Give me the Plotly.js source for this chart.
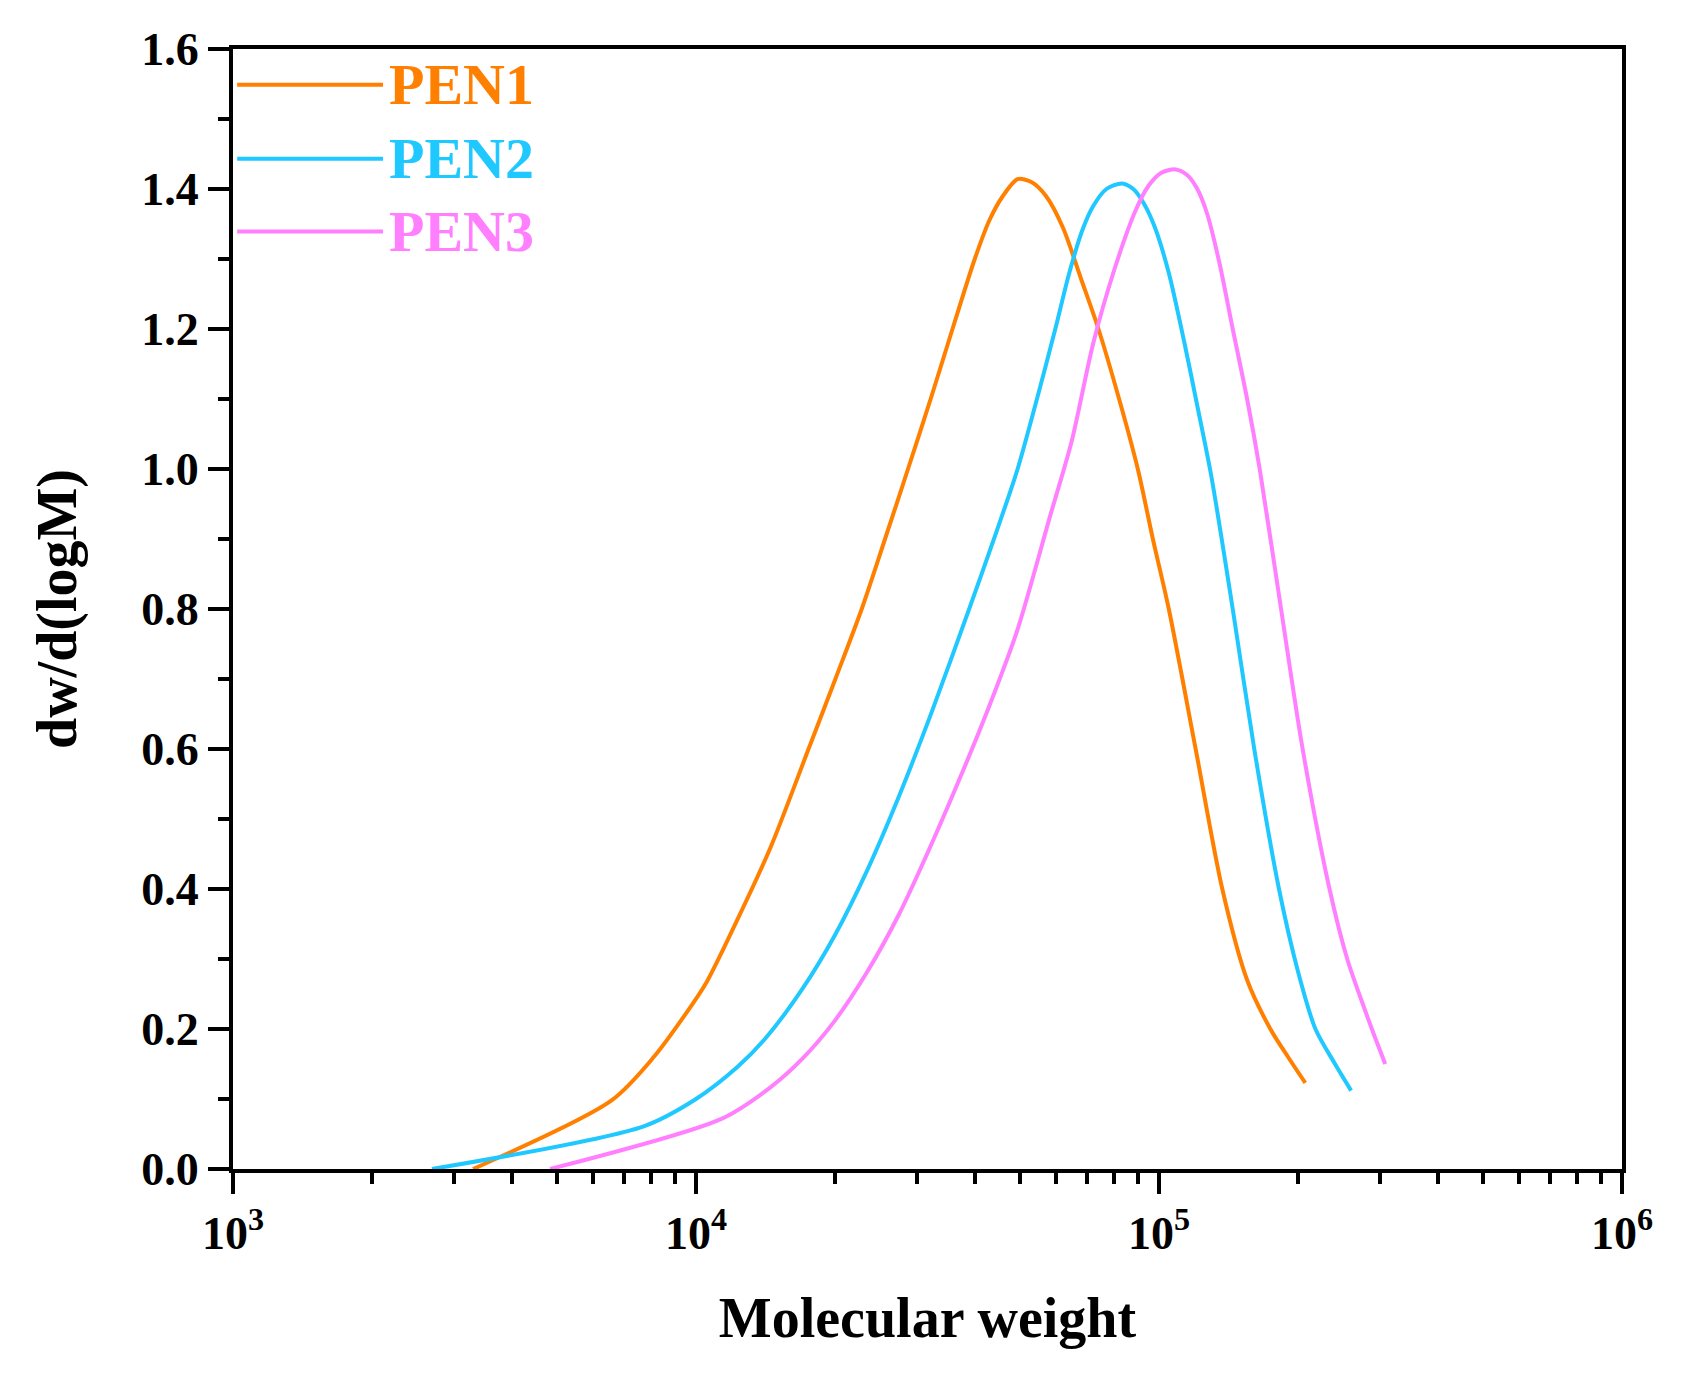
<!DOCTYPE html>
<html>
<head>
<meta charset="utf-8">
<script src="https://cdn.plot.ly/plotly-3.0.1.min.js"></script>
<style>
  html, body { margin: 0; padding: 0; background: #fff; }
  #gpc { width: 1683px; height: 1380px; }
</style>
</head>
<body>
<div id="gpc"></div>
<script>
/* molecular weight distribution */
var pen1_M = [3300, 6570, 8130, 9440, 10500, 12300, 14500, 17500, 20000, 22800, 25600, 28700, 32300, 36000, 40000, 43000, 46000,
  49500, 53000, 57000, 62000, 68000, 74000, 82000, 90000, 97000, 105000, 120000, 137000, 155000, 174000, 190000, 207000];
var pen1_w = [0.0, 0.098, 0.161, 0.219, 0.265, 0.357, 0.46, 0.60, 0.70, 0.80, 0.90, 1.00, 1.105, 1.205, 1.30, 1.355, 1.39,
  1.414, 1.41, 1.39, 1.345, 1.27, 1.20, 1.10, 1.00, 0.90, 0.80, 0.60, 0.40, 0.27, 0.20, 0.16, 0.123];

var pen2_M = [2690, 7710, 10000, 12300, 14100, 17000, 19950, 23400, 27500, 32300, 38900, 44000, 49500, 54500, 59700, 64000, 68200,
  72000, 77000, 83200, 88000, 93000, 98000, 105000, 113500, 121000, 129700, 144300, 160600, 181600, 200000, 217700, 240000, 260000];
var pen2_w = [0.0, 0.061, 0.10, 0.146, 0.186, 0.258, 0.334, 0.426, 0.534, 0.653, 0.80, 0.90, 1.00, 1.10, 1.20, 1.28, 1.34,
  1.375, 1.40, 1.408, 1.40, 1.378, 1.345, 1.28, 1.18, 1.09, 0.99, 0.80, 0.60, 0.40, 0.28, 0.20, 0.15, 0.112];

var pen3_M = [4840, 11380, 14500, 17000, 19950, 23400, 27500, 32300, 37900, 43500, 49500, 58200, 64800, 72000, 80100, 89100, 95000,
  101000, 108600, 115000, 121000, 127000, 135000, 144300, 155000, 165000, 183500, 204300, 233500, 255000, 274000, 292000, 308000];
var pen3_w = [0.0, 0.072, 0.117, 0.158, 0.212, 0.281, 0.365, 0.465, 0.572, 0.67, 0.771, 0.933, 1.04, 1.178, 1.285, 1.37, 1.405,
  1.423, 1.428, 1.42, 1.40, 1.365, 1.295, 1.20, 1.10, 1.00, 0.80, 0.60, 0.40, 0.30, 0.24, 0.19, 0.15];

var names = ['PEN1', 'PEN2', 'PEN3'];
var colors = ['#FF8000', '#1FC8FF', '#FF7FFF'];

var xTickVals = [1e3, 1e4, 1e5, 1e6];
var xTickText = ['10<sup>3</sup>', '10<sup>4</sup>', '10<sup>5</sup>', '10<sup>6</sup>'];

var xMinor = [];
for (var d = 3; d < 6; d++) {
  for (var k = 2; k <= 9; k++) xMinor.push(k * Math.pow(10, d));
}

var serif = 'Liberation Serif, Times New Roman, serif';

var series = [[pen1_M, pen1_w], [pen2_M, pen2_w], [pen3_M, pen3_w]];
var data = series.map(function(s, i) {
  return {
    x: s[0],
    y: s[1],
    name: names[i],
    type: 'scatter',
    mode: 'lines',
    line: {color: colors[i], width: 4, shape: 'spline', smoothing: 0.8}
  };
});

/* legend drawn by hand: long keys like in the original */
var legY = [0.968, 0.902, 0.837];
var shapes = [], annotations = [];
names.forEach(function(n, i) {
  shapes.push({type: 'line', xref: 'paper', yref: 'paper', x0: 0.003, x1: 0.108, y0: legY[i], y1: legY[i],
    line: {color: colors[i], width: 4}});
  annotations.push({xref: 'paper', yref: 'paper', x: 0.111, y: legY[i], xanchor: 'left', yanchor: 'middle',
    text: n, showarrow: false, font: {family: serif, size: 58, color: colors[i], weight: 'bold'}});
});

var axisCommon = {
  showline: true, linecolor: '#000', linewidth: 4, mirror: true,
  ticks: 'outside', ticklen: 21, tickwidth: 4, tickcolor: '#000',
  showgrid: false, zeroline: false,
  tickfont: {family: serif, size: 46, color: '#000', weight: 'bold'}
};

var layout = {
  width: 1683,
  height: 1380,
  margin: {l: 233, r: 61, t: 49, b: 211},
  paper_bgcolor: '#fff',
  plot_bgcolor: '#fff',
  showlegend: false,
  font: {family: serif, color: '#000', weight: 'bold'},
  xaxis: Object.assign({}, axisCommon, {
    type: 'log',
    range: [3, 6],
    tickmode: 'array',
    tickvals: xTickVals,
    ticktext: xTickText,
    minor: {tickmode: 'array', tickvals: xMinor, ticks: 'outside', ticklen: 11, tickwidth: 4, tickcolor: '#000'},
    title: {text: 'Molecular weight', font: {family: serif, size: 56, color: '#000', weight: 'bold'}, standoff: 41}
  }),
  yaxis: Object.assign({}, axisCommon, {
    range: [0, 1.6],
    dtick: 0.2,
    tickformat: '.1f',
    minor: {dtick: 0.1, ticks: 'outside', ticklen: 11, tickwidth: 4, tickcolor: '#000'},
    title: {text: 'dw/d(logM)', font: {family: serif, size: 56, color: '#000', weight: 'bold'}, standoff: 48}
  }),
  shapes: shapes,
  annotations: annotations
};

Plotly.newPlot('gpc', data, layout, {displayModeBar: false, staticPlot: true});
</script>
</body>
</html>
